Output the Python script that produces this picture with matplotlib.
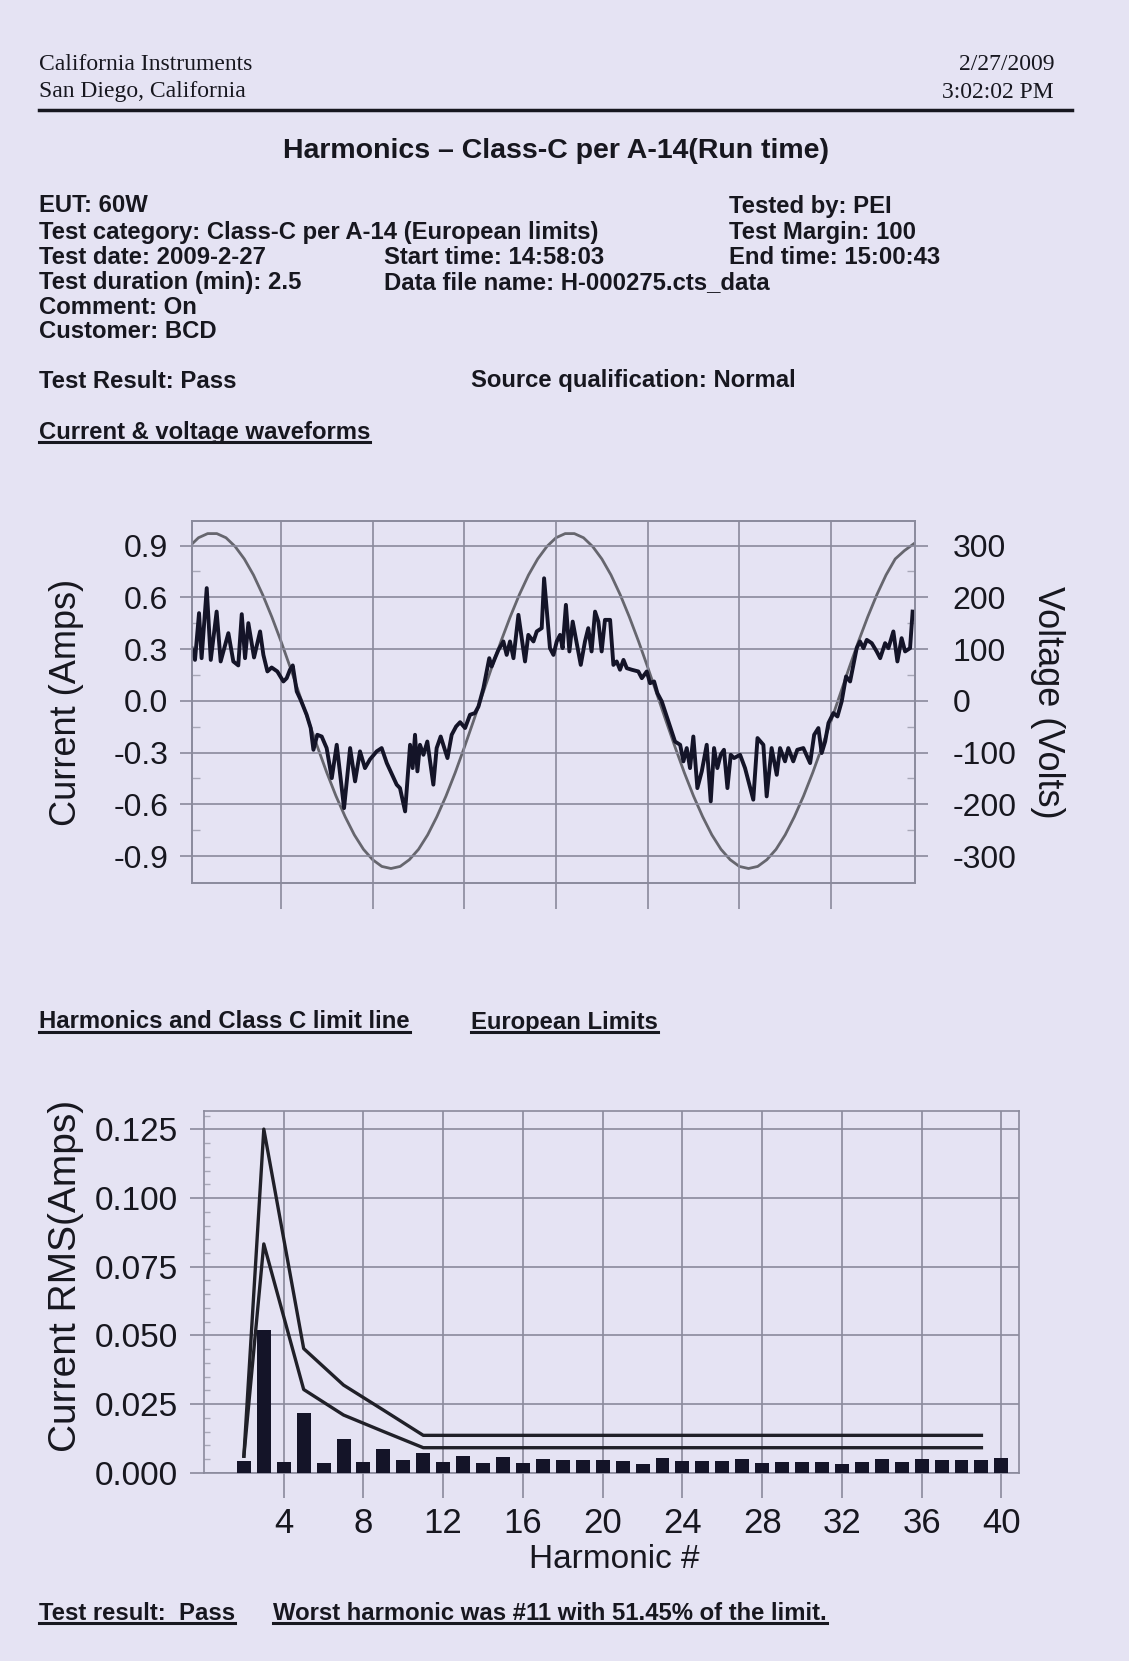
import matplotlib
matplotlib.use("Agg")
import matplotlib.pyplot as plt
from matplotlib.lines import Line2D
import numpy as np

# ---- waveform data (time in ms) ----
volt_ms = np.arange(0, 40, 0.5)
volt_v = [298, 315, 323, 323, 315, 298, 274, 243, 205, 162,
          115, 65, 13, -39, -90, -139, -184, -224, -259, -287,
          -307, -320, -324, -320, -307, -287, -259, -224, -184, -139,
          -90, -39, 13, 65, 115, 162, 205, 243, 274, 298,
          315, 323, 323, 315, 298, 274, 243, 205, 162, 115,
          65, 13, -39, -90, -139, -184, -224, -259, -287, -307,
          -320, -324, -320, -307, -287, -259, -224, -184, -139, -90,
          -39, 13, 65, 115, 162, 205, 243, 274, 290, 303]

cur_ms = [0.13, 0.31, 0.53, 0.67, 0.95, 1.17, 1.49, 1.71, 2.13, 2.40,
          2.67, 2.86, 3.04, 3.22, 3.53, 3.86, 4.04, 4.26, 4.49, 4.80,
          5.13, 5.31, 5.49, 5.64, 5.86, 6.07, 6.40, 6.62, 6.77, 6.98,
          7.22, 7.49, 7.77, 8.04, 8.44, 8.77, 9.04, 9.31, 9.58, 9.85,
          10.22, 10.49, 10.77, 11.31, 11.49, 11.77, 12.04, 12.18, 12.31, 12.44,
          12.58, 12.77, 12.98, 13.31, 13.49, 13.71, 14.08, 14.31, 14.55, 14.77,
          15.04, 15.31, 15.58, 15.77, 16.04, 16.22, 16.36, 16.49, 16.67, 16.86,
          17.13, 17.31, 17.49, 17.68, 17.95, 18.31, 18.49, 18.77, 18.95, 19.22,
          19.35, 19.67, 19.86, 20.04, 20.22, 20.36, 20.54, 20.73, 20.91, 21.35,
          21.58, 21.76, 21.94, 22.13, 22.31, 22.49, 22.67, 22.95, 23.13, 23.31,
          23.49, 23.68, 23.86, 24.13, 24.49, 24.68, 24.95, 25.13, 25.35, 25.53,
          25.77, 26.13, 26.49, 26.77, 26.95, 27.13, 27.31, 27.49, 27.71, 27.95,
          28.22, 28.44, 28.62, 28.80, 28.98, 29.16, 29.35, 29.53, 29.71, 30.04,
          30.31, 30.76, 30.99, 31.31, 31.49, 31.76, 32.04, 32.22, 32.49, 32.67,
          32.94, 33.16, 33.49, 33.86, 34.08, 34.31, 34.49, 34.68, 34.86, 35.13,
          35.35, 35.58, 35.82, 36.04, 36.22, 36.40, 36.58, 36.77, 36.95, 37.22,
          37.49, 37.68, 37.95, 38.13, 38.40, 38.62, 38.85, 39.04, 39.31, 39.45]
cur_a = [0.305, 0.237, 0.508, 0.247, 0.653, 0.237, 0.517, 0.228, 0.392, 0.228,
         0.205, 0.502, 0.247, 0.450, 0.251, 0.402, 0.266, 0.170, 0.193, 0.170,
         0.112, 0.131, 0.180, 0.205, 0.054, 0.006, -0.081, -0.158, -0.284, -0.197,
         -0.207, -0.274, -0.448, -0.255, -0.622, -0.274, -0.467, -0.293, -0.390, -0.340,
         -0.293, -0.274, -0.361, -0.486, -0.506, -0.641, -0.255, -0.390, -0.197, -0.409,
         -0.255, -0.313, -0.236, -0.486, -0.274, -0.207, -0.332, -0.197, -0.149, -0.124,
         -0.158, -0.081, -0.071, -0.033, 0.073, 0.170, 0.247, 0.199, 0.247, 0.295,
         0.344, 0.266, 0.344, 0.247, 0.498, 0.228, 0.382, 0.344, 0.402, 0.421,
         0.710, 0.305, 0.266, 0.344, 0.382, 0.305, 0.556, 0.286, 0.459, 0.208,
         0.344, 0.421, 0.286, 0.517, 0.459, 0.286, 0.469, 0.469, 0.208, 0.228,
         0.180, 0.237, 0.189, 0.180, 0.170, 0.131, 0.170, 0.102, 0.112, 0.044,
         -0.004, -0.120, -0.236, -0.255, -0.351, -0.274, -0.390, -0.207, -0.506, -0.409,
         -0.255, -0.583, -0.274, -0.390, -0.313, -0.284, -0.506, -0.313, -0.332, -0.313,
         -0.390, -0.573, -0.216, -0.255, -0.554, -0.274, -0.429, -0.274, -0.351, -0.274,
         -0.351, -0.284, -0.274, -0.361, -0.197, -0.158, -0.303, -0.236, -0.129, -0.071,
         -0.091, -0.004, 0.141, 0.112, 0.208, 0.305, 0.344, 0.305, 0.353, 0.334,
         0.286, 0.247, 0.334, 0.305, 0.402, 0.228, 0.363, 0.286, 0.305, 0.517]

amp_ticks = [-0.9, -0.6, -0.3, 0.0, 0.3, 0.6, 0.9]
volt_ticks = [-300, -200, -100, 0, 100, 200, 300]
time_grid = [5, 10, 15, 20, 25, 30, 35]

# ---- harmonic data ----
harmonic = list(range(2, 41))
rms_amps = [0.0042, 0.0519, 0.0040, 0.0218, 0.0036, 0.0121, 0.0038, 0.0088, 0.0046, 0.0070,
            0.0040, 0.0061, 0.0036, 0.0056, 0.0034, 0.0051, 0.0045, 0.0047, 0.0045, 0.0042,
            0.0033, 0.0055, 0.0042, 0.0042, 0.0042, 0.0051, 0.0035, 0.0039, 0.0039, 0.0039,
            0.0033, 0.0039, 0.0051, 0.0039, 0.0051, 0.0045, 0.0045, 0.0045, 0.0055]
limit_h = [2, 3, 5, 7, 9, 11, 39]
limit_upper = [0.0060, 0.1251, 0.0452, 0.0319, 0.0228, 0.0136, 0.0136]
limit_lower = [0.0060, 0.0833, 0.0303, 0.0210, 0.0150, 0.0091, 0.0091]
rms_ticks = [0.000, 0.025, 0.050, 0.075, 0.100, 0.125]
harm_ticks = [4, 8, 12, 16, 20, 24, 28, 32, 36, 40]

paper = '#e5e3f3'
ink = '#17171f'
grid_c = '#8a8a9c'
volt_c = '#66666e'
cur_c = '#141428'

plt.rcParams['font.family'] = 'Liberation Sans'
plt.rcParams['axes.unicode_minus'] = False

W, H = 1129, 1661
fig = plt.figure(figsize=(W / 100, H / 100), dpi=100, facecolor=paper)


def px(x, y):
    return x / W, 1 - y / H


def put(x, y, s, size=17.2, weight='bold', ha='left', **kw):
    return fig.text(*px(x, y), s, fontsize=size, fontweight=weight, ha=ha,
                    va='center', color=ink, **kw)


# ---- page header ----
serif = dict(family='Liberation Serif')
put(39, 64, 'California Instruments', 17, 'normal', **serif)
put(39, 92, 'San Diego, California', 17, 'normal', **serif)
put(1054, 64, '2/27/2009', 17, 'normal', ha='right', **serif)
put(1054, 92, '3:02:02 PM', 17, 'normal', ha='right', **serif)
fig.add_artist(Line2D([39 / W, 1072 / W], [1 - 110 / H] * 2, lw=2.5, color=ink))

put(556, 151, 'Harmonics \u2013 Class-C per A-14(Run time)', 20.5, ha='center')

rows = [206, 232, 257, 283, 308, 332]
col1 = ['EUT: 60W', 'Test category: Class-C per A-14 (European limits)',
        'Test date: 2009-2-27', 'Test duration (min): 2.5', 'Comment: On', 'Customer: BCD']
for y, s in zip(rows, col1):
    put(39, y, s)
put(384, rows[2], 'Start time: 14:58:03')
put(384, rows[3], 'Data file name: H-000275.cts_data')
put(729, rows[0], 'Tested by: PEI')
put(729, rows[1], 'Test Margin: 100')
put(729, rows[2], 'End time: 15:00:43')

put(39, 381, 'Test Result: Pass')
put(471, 381, 'Source qualification: Normal')
underlined = [put(39, 432, 'Current & voltage waveforms'),
              put(39, 1022, 'Harmonics and Class C limit line'),
              put(471, 1022, 'European Limits'),
              put(39, 1613, 'Test result:  Pass'),
              put(273, 1613, 'Worst harmonic was #11 with 51.45% of the limit.')]

# ---- current / voltage waveforms ----
ax = fig.add_axes([191.7 / W, 1 - 883 / H, (915 - 191.7) / W, (883 - 521) / H])
ax2 = ax.twinx()
ax.set_zorder(ax2.get_zorder() + 1)
ax.patch.set_visible(False)
ax2.patch.set_visible(False)

ax.plot(cur_ms, cur_a, color=cur_c, lw=2.8, solid_joinstyle='round')
ax2.plot(volt_ms, volt_v, color=volt_c, lw=2.0)

amp_lim = (-1.056, 1.042)
ax.set_ylim(amp_lim)
ax2.set_ylim(amp_lim[0] * 1000 / 3, amp_lim[1] * 1000 / 3)
ax.set_xlim(0.13, 39.58)

ax.set_xticks(time_grid)
ax.set_yticks(amp_ticks)
ax.set_yticklabels(['%.1f' % v for v in amp_ticks])
ax.set_yticks([-0.75, -0.45, -0.15, 0.15, 0.45, 0.75], minor=True)
ax2.set_yticks(volt_ticks)
ax2.set_yticks([-250, -150, -50, 50, 150, 250], minor=True)
ax.grid(True, which='major', color=grid_c, lw=1.2)
ax.tick_params(axis='x', direction='out', length=19, width=1.2, color=grid_c,
               labelbottom=False)
ax.tick_params(axis='y', which='major', direction='out', length=9, width=1.2,
               color=grid_c, labelsize=23, labelcolor=ink, pad=8)
ax.tick_params(axis='y', which='minor', direction='in', length=6, width=1,
               color='#a8a8b8')
ax2.tick_params(axis='y', which='major', direction='out', length=9, width=1.2,
                color=grid_c, labelsize=23, labelcolor=ink, pad=18)
ax2.tick_params(axis='y', which='minor', direction='in', length=6, width=1,
                color='#a8a8b8')
for a in (ax, ax2):
    for sp in a.spines.values():
        sp.set_color(grid_c)
        sp.set_linewidth(1.2)

fig.text(*px(66, 702), 'Current (Amps)', rotation=90, ha='center', va='center',
         fontsize=26, color=ink)
fig.text(*px(1048, 702), 'Voltage (Volts)', rotation=270, ha='center', va='center',
         fontsize=26, color=ink)

# ---- harmonic spectrum with class C limits ----
bx = fig.add_axes([204 / W, 1 - 1472.7 / H, (1019.3 - 204) / W, (1472.7 - 1110.7) / H])
bx.patch.set_visible(False)
bx.set_axisbelow(True)
bx.bar(harmonic, rms_amps, width=0.7, color=cur_c, zorder=3)
bx.plot(limit_h, limit_upper, color='#202028', lw=2.4, zorder=4)
bx.plot(limit_h, limit_lower, color='#202028', lw=2.4, zorder=4)
bx.set_xlim(0, 40.9)
bx.set_ylim(0, 0.1318)
bx.set_xticks(harm_ticks)
bx.set_yticks(rms_ticks)
bx.set_yticklabels(['%.3f' % v for v in rms_ticks])
bx.set_yticks(np.arange(0.005, 0.131, 0.005), minor=True)
bx.grid(True, which='major', color=grid_c, lw=1.2)
bx.tick_params(axis='x', direction='out', length=18, width=1.2, color=grid_c,
               labelsize=25, labelcolor=ink, pad=7)
bx.tick_params(axis='y', which='major', direction='out', length=10, width=1.2,
               color=grid_c, labelsize=24, labelcolor=ink, pad=9)
bx.tick_params(axis='y', which='minor', direction='in', length=4, width=1,
               color='#a8a8b8')
for sp in bx.spines.values():
    sp.set_color(grid_c)
    sp.set_linewidth(1.2)

fig.text(*px(66, 1276), 'Current RMS(Amps)', rotation=90, ha='center', va='center',
         fontsize=28, color=ink)
fig.text(*px(614, 1560), 'Harmonic #', ha='center', va='center', fontsize=24, color=ink)

# underline the section headings
fig.canvas.draw()
renderer = fig.canvas.get_renderer()
inv = fig.transFigure.inverted()
for t in underlined:
    bb = t.get_window_extent(renderer)
    (x0, y0), (x1, _) = inv.transform([[bb.x0, bb.y0 + 2], [bb.x1, bb.y0]])
    fig.add_artist(Line2D([x0, x1], [y0, y0], lw=2.2, color=ink))

fig.savefig('out.png', dpi=100, facecolor=paper)
